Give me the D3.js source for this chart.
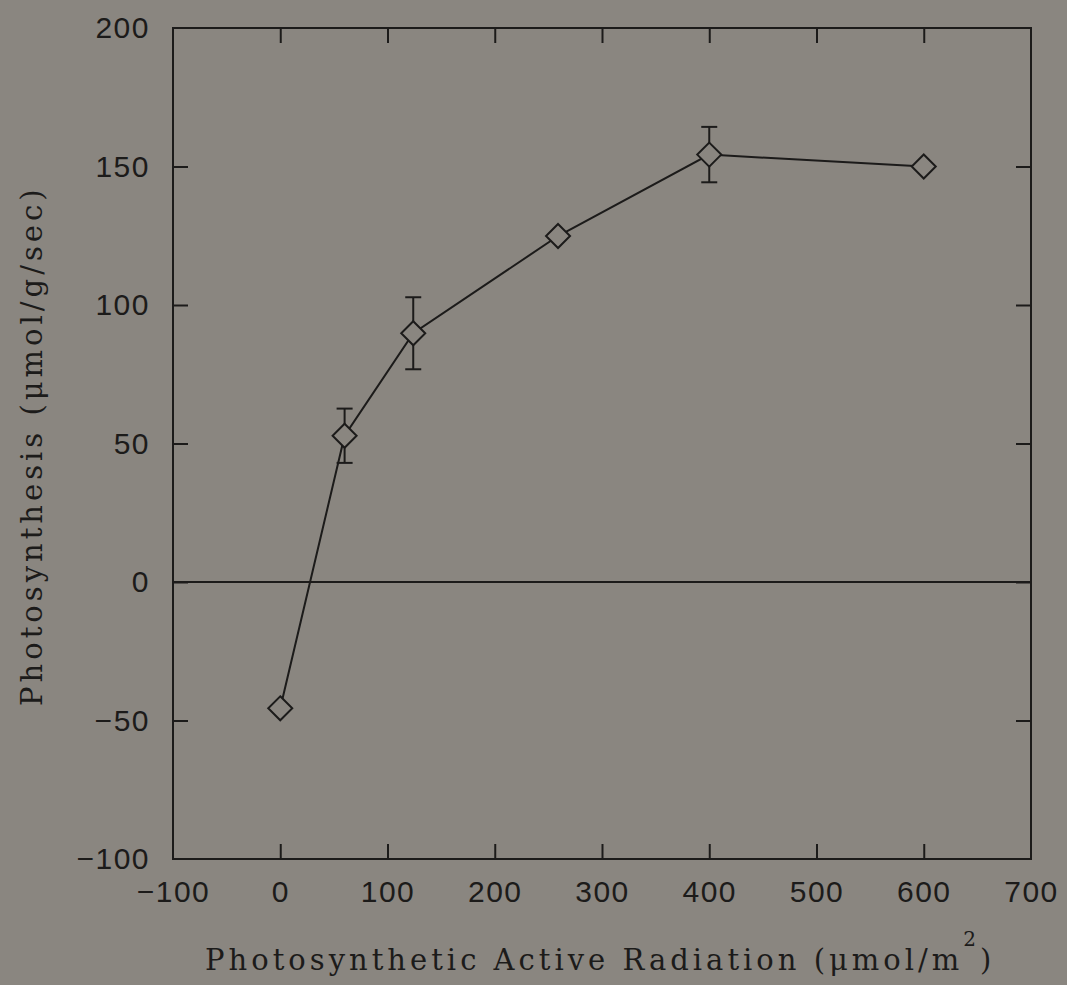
<!DOCTYPE html>
<html>
<head>
    <title>Photosynthesis vs PAR</title>
    <script src="https://d3js.org/d3.v7.min.js"></script>
    <style>
        body { margin: 0; background: #8a8680; }
        svg { display: block; }
    </style>
</head>
<body>
    <div id="vis"></div>
    <script>
        // values
        var parValues = [0, 60, 124, 259, 400, 600];
        var photoValues = [-45.6, 52.8, 89.8, 124.9, 154.3, 150];
        var errValues = [0, 9.8, 13, 0, 10, 0];
        var xTicks = [-100, 0, 100, 200, 300, 400, 500, 600, 700];
        var yTicks = [-100, -50, 0, 50, 100, 150, 200];

        var data = parValues.map(function(p, i) {
            return {x: p, y: photoValues[i], e: errValues[i]};
        });

        var W = 1067, H = 985;
        var margin = {top: 28, left: 173, right: 36, bottom: 126};
        var width = W - margin.left - margin.right;
        var height = H - margin.top - margin.bottom;
        var ink = "#1c1b1a";
        var bg = "#8a8680";

        var svg = d3.select("#vis").append("svg")
            .attr("width", W)
            .attr("height", H)
            .style("background", bg);

        var g = svg.append("g")
            .attr("transform", "translate(" + margin.left + "," + margin.top + ")");

        var x = d3.scaleLinear().domain([-100, 700]).range([0, width]);
        var y = d3.scaleLinear().domain([-100, 200]).range([height, 0]);

        var innerX = function(v) { return v > -100 && v < 700; };
        var innerY = function(v) { return v > -100 && v < 200; };
        var fmt = function(d) { return d < 0 ? "\u2212" + Math.abs(d) : d; };

        function styleAxis(sel) {
            sel.select(".domain").remove();
            sel.selectAll("line").attr("stroke", ink).attr("stroke-width", 2);
            sel.selectAll("text")
                .attr("fill", ink)
                .style("font-family", "'Liberation Sans', Arial, sans-serif")
                .style("font-size", "30px")
                .style("letter-spacing", "1.5px");
        }

        // bottom axis with labels
        var axBottom = g.append("g")
            .attr("transform", "translate(0," + height + ")")
            .call(d3.axisBottom(x).tickValues(xTicks).tickSizeInner(-15).tickSizeOuter(0).tickPadding(22).tickFormat(fmt));
        styleAxis(axBottom);
        axBottom.selectAll(".tick").filter(function(d) { return !innerX(d); }).select("line").remove();

        // top ticks
        var axTop = g.append("g")
            .call(d3.axisTop(x).tickValues(xTicks.filter(innerX)).tickSizeInner(-15).tickSizeOuter(0).tickFormat(""));
        styleAxis(axTop);

        // left axis with labels
        var axLeft = g.append("g")
            .call(d3.axisLeft(y).tickValues(yTicks).tickSizeInner(-15).tickSizeOuter(0).tickPadding(23).tickFormat(fmt));
        styleAxis(axLeft);
        axLeft.selectAll(".tick").filter(function(d) { return !innerY(d); }).select("line").remove();

        // right ticks
        var axRight = g.append("g")
            .attr("transform", "translate(" + width + ",0)")
            .call(d3.axisRight(y).tickValues(yTicks.filter(innerY)).tickSizeInner(-15).tickSizeOuter(0).tickFormat(""));
        styleAxis(axRight);

        // frame
        g.append("rect")
            .attr("x", 0).attr("y", 0)
            .attr("width", width).attr("height", height)
            .attr("fill", "none")
            .attr("stroke", ink)
            .attr("stroke-width", 2);

        // zero line
        g.append("line")
            .attr("x1", 0).attr("x2", width)
            .attr("y1", y(0)).attr("y2", y(0))
            .attr("stroke", ink)
            .attr("stroke-width", 2);

        // connecting line
        var line = d3.line()
            .x(function(d) { return x(d.x); })
            .y(function(d) { return y(d.y); });
        g.append("path")
            .datum(data)
            .attr("d", line)
            .attr("fill", "none")
            .attr("stroke", ink)
            .attr("stroke-width", 2);

        // error bars
        var errs = g.selectAll(".err")
            .data(data.filter(function(d) { return d.e > 0; }))
            .enter().append("g")
            .attr("class", "err")
            .attr("stroke", ink)
            .attr("stroke-width", 2);
        errs.append("line")
            .attr("x1", function(d) { return x(d.x); })
            .attr("x2", function(d) { return x(d.x); })
            .attr("y1", function(d) { return y(d.y + d.e); })
            .attr("y2", function(d) { return y(d.y - d.e); });
        [1, -1].forEach(function(s) {
            errs.append("line")
                .attr("x1", function(d) { return x(d.x) - 8; })
                .attr("x2", function(d) { return x(d.x) + 8; })
                .attr("y1", function(d) { return y(d.y + s * d.e); })
                .attr("y2", function(d) { return y(d.y + s * d.e); });
        });

        // hollow diamonds
        var r = 12;
        g.selectAll(".pt")
            .data(data)
            .enter().append("path")
            .attr("class", "pt")
            .attr("d", function(d) {
                var cx = x(d.x), cy = y(d.y);
                return "M" + cx + "," + (cy - r) + "L" + (cx + r) + "," + cy +
                       "L" + cx + "," + (cy + r) + "L" + (cx - r) + "," + cy + "Z";
            })
            .attr("fill", bg)
            .attr("stroke", ink)
            .attr("stroke-width", 2);

        // axis titles
        var xt = svg.append("text")
            .attr("x", 205)
            .attr("y", 970)
            .attr("text-anchor", "start")
            .attr("fill", ink)
            .style("font-family", "'DejaVu Serif', serif")
            .style("font-size", "29px")
            .style("letter-spacing", "4px");
        xt.append("tspan").text("Photosynthetic Active Radiation (\u03bcmol/m");
        xt.append("tspan").attr("dy", -24).style("font-size", "20px").text("2");
        xt.append("tspan").attr("dy", 24).text(")");

        svg.append("text")
            .attr("transform", "translate(42,706) rotate(-90)")
            .attr("text-anchor", "start")
            .attr("fill", ink)
            .style("font-family", "'DejaVu Serif', serif")
            .style("font-size", "29px")
            .style("letter-spacing", "4px")
            .text("Photosynthesis (\u03bcmol/g/sec)");
    </script>
</body>
</html>
